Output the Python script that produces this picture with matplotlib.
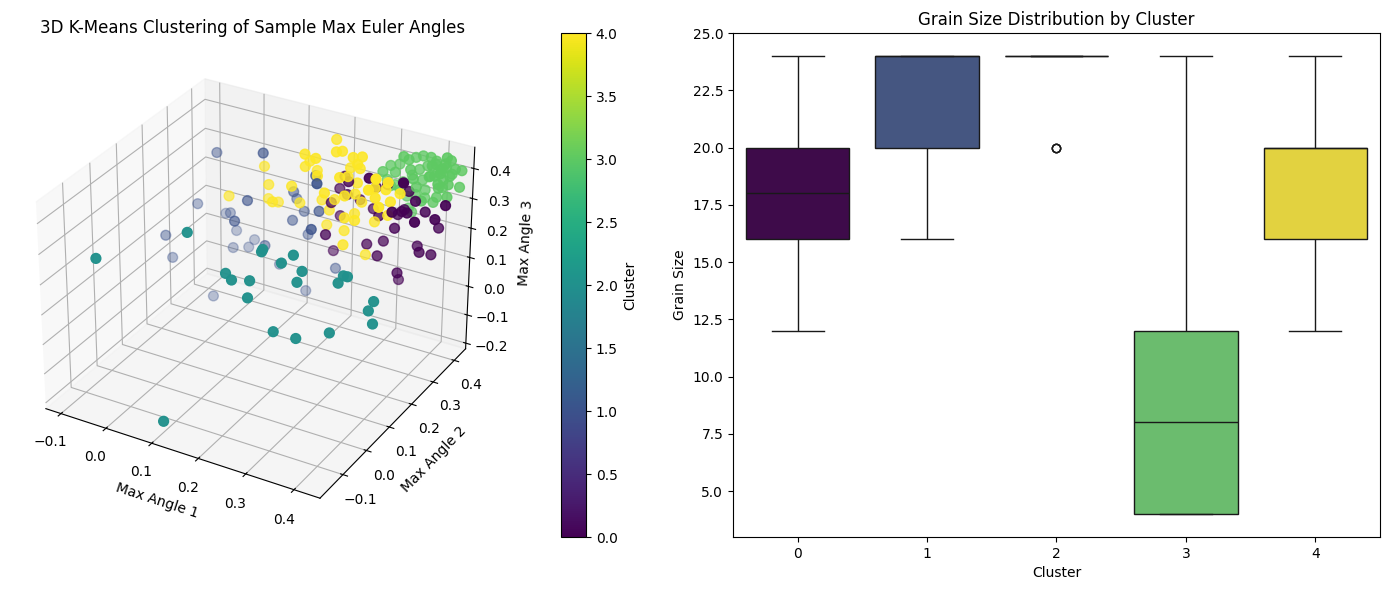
"""
Euler burchaklari bo'yicha K-Means klasterlari va donador o'lcham taqsimoti.
"""
import numpy as np
import pandas as pd
import matplotlib
matplotlib.use("Agg")
import matplotlib.pyplot as plt
import seaborn as sns

# === MA'LUMOTLAR (klaster bo'yicha) ===
# cluster 0
c0_x = [0.226, 0.253, 0.201, 0.315, 0.284, 0.326, 0.232, 0.217, 0.203, 0.225,
        0.194, 0.285, 0.311, 0.317, 0.274, 0.364, 0.331, 0.343, 0.348, 0.377,
        0.340, 0.411, 0.353, 0.385, 0.397, 0.435, 0.413, 0.447, 0.374, 0.396,
        0.412, 0.360, 0.332, 0.386, 0.250, 0.309]
c0_y = [0.36, 0.32, 0.39, 0.28, 0.38, 0.34, 0.36, 0.32, 0.39, 0.28,
        0.38, 0.34, 0.36, 0.32, 0.39, 0.28, 0.38, 0.34, 0.36, 0.32,
        0.39, 0.28, 0.38, 0.34, 0.36, 0.32, 0.39, 0.34, 0.38, 0.34,
        0.36, 0.32, 0.39, 0.28, 0.38, 0.34]
c0_z = [0.342, 0.361, 0.271, 0.424, 0.316, 0.369, 0.283, 0.276, 0.179, 0.198,
        0.061, 0.151, 0.159, 0.139, 0.233, 0.333, 0.244, 0.230, 0.275, 0.309,
        0.258, 0.320, 0.331, 0.338, 0.294, 0.312, 0.227, 0.350, 0.156, 0.172,
        0.157, 0.100, 0.015, 0.438, 0.260, 0.257]
c0_grain = [12, 16, 20, 24, 16, 20, 16, 20, 12, 16, 20, 24, 16, 20, 16, 20, 16, 20,
            12, 16, 20, 24, 16, 20, 16, 20, 16, 12, 20, 24, 16, 20, 16, 20, 24, 16]

# cluster 1
c1_x = [-0.078, 0.058, -0.107, -0.080, -0.048, 0.044, -0.050, 0.031, -0.019, -0.042,
        -0.022, 0.062, -0.126, -0.128, -0.051, 0.054, 0.173, 0.095, 0.082, 0.220,
        0.104, 0.181, 0.098, 0.108, 0.209, 0.180, 0.109]
c1_y = [0.40, 0.34, 0.37, 0.44, 0.40, 0.30, 0.43, 0.27, 0.45, 0.40,
        0.43, 0.34, 0.27, 0.30, 0.33, 0.42, 0.34, 0.40, 0.44, 0.25,
        0.43, 0.34, 0.39, 0.44, 0.25, 0.42, 0.43]
c1_z = [0.273, 0.364, 0.102, 0.033, 0.075, 0.223, -0.009, 0.167, -0.042, -0.046,
        -0.056, 0.048, 0.050, -0.050, -0.175, -0.077, 0.335, 0.209, 0.153, 0.386,
        0.125, 0.218, 0.118, 0.039, 0.229, -0.035, -0.154]
c1_grain = [24, 20, 24, 16, 24, 24, 20, 24, 24, 16, 24, 20, 24, 24,
            20, 24, 16, 24, 24, 20, 24, 24, 16, 20, 24, 24, 20]

# cluster 2
c2_x = [-0.073, 0.058, 0.186, 0.187, 0.223, 0.134, 0.152, 0.180, 0.186, 0.241,
        0.108, 0.238, 0.260, 0.256, 0.327, 0.334, 0.322, 0.387, 0.383, 0.396,
        0.280, 0.331]
c2_y = [-0.09, 0.03, 0.087, 0.09, 0.097, 0.04, 0.03, 0.05, 0.03, 0.029,
        -0.162, 0.117, 0.11, 0.097, 0.15, 0.153, 0.138, 0.158, 0.144, 0.136,
        0.046, 0.085]
c2_z = [0.242, 0.303, 0.256, 0.262, 0.228, 0.194, 0.187, 0.183, 0.143, 0.056,
        -0.167, 0.247, 0.208, 0.179, 0.195, 0.193, 0.177, 0.131, 0.108, 0.076,
        0.039, 0.053]
c2_grain = [24, 24, 24, 24, 24, 20, 24, 24, 20, 24, 24,
            24, 24, 24, 20, 24, 24, 24, 24, 24, 24, 24]

# cluster 3
c3_x = [0.295, 0.305, 0.342, 0.297, 0.339, 0.354, 0.379, 0.382, 0.421, 0.421,
        0.355, 0.347, 0.408, 0.400, 0.403, 0.331, 0.361, 0.354, 0.414, 0.406,
        0.296, 0.325, 0.368, 0.360, 0.421, 0.349, 0.360, 0.402, 0.432, 0.326,
        0.388, 0.342, 0.279, 0.314, 0.314, 0.364, 0.425, 0.419, 0.322, 0.395,
        0.340, 0.332, 0.390, 0.410, 0.430, 0.395, 0.415, 0.435, 0.385, 0.405,
        0.425, 0.440, 0.370, 0.400]
c3_y = [0.42, 0.44, 0.40, 0.38, 0.44, 0.44, 0.42, 0.44, 0.40, 0.42,
        0.38, 0.44, 0.36, 0.42, 0.44, 0.40, 0.38, 0.44, 0.36, 0.42,
        0.44, 0.40, 0.38, 0.44, 0.36, 0.42, 0.44, 0.40, 0.38, 0.44,
        0.36, 0.42, 0.44, 0.40, 0.38, 0.44, 0.36, 0.42, 0.44, 0.40,
        0.38, 0.44, 0.42, 0.42, 0.42, 0.44, 0.44, 0.44, 0.40, 0.40,
        0.40, 0.42, 0.44, 0.43]
c3_z = [0.368, 0.364, 0.419, 0.374, 0.400, 0.411, 0.429, 0.405, 0.457, 0.435,
        0.404, 0.363, 0.451, 0.396, 0.392, 0.341, 0.376, 0.331, 0.420, 0.365,
        0.291, 0.313, 0.352, 0.300, 0.396, 0.293, 0.273, 0.319, 0.345, 0.224,
        0.327, 0.231, 0.302, 0.366, 0.334, 0.382, 0.432, 0.382, 0.263, 0.299,
        0.441, 0.338, 0.410, 0.420, 0.410, 0.385, 0.375, 0.395, 0.380, 0.350,
        0.370, 0.355, 0.350, 0.330]
c3_grain = [4, 8, 4, 12, 4, 8, 12, 4, 16, 4, 12, 8, 4, 12, 20, 4, 8, 12, 4, 12,
            24, 8, 4, 12, 16, 4, 8, 12, 4, 20, 12, 8, 4, 16, 12, 4, 8, 12, 24,
            4, 16, 20, 4, 8, 12, 4, 12, 8, 4, 12, 16, 4, 8, 12]

# cluster 4
c4_x = [0.206, 0.066, 0.183, 0.170, 0.207, 0.170, 0.181, 0.230, 0.238, 0.268,
        0.281, 0.252, 0.288, 0.277, 0.211, 0.091, 0.075, 0.125, 0.102, 0.156,
        0.159, 0.192, 0.236, 0.224, 0.269, 0.277, 0.277, 0.328, 0.213, 0.258,
        0.261, 0.267, 0.343, 0.309, 0.359, 0.341, 0.203, 0.279, 0.267, 0.291,
        0.255, 0.305, 0.350, 0.337, 0.333, 0.351, 0.357, 0.277, 0.292, 0.019]
c4_y = [0.362, 0.33, 0.272, 0.32, 0.27, 0.30, 0.33, 0.312, 0.322, 0.307,
        0.32, 0.33, 0.285, 0.32, 0.27, 0.30, 0.33, 0.25, 0.32, 0.27,
        0.30, 0.33, 0.25, 0.32, 0.27, 0.30, 0.33, 0.25, 0.32, 0.27,
        0.30, 0.33, 0.25, 0.32, 0.27, 0.30, 0.33, 0.25, 0.32, 0.27,
        0.30, 0.33, 0.25, 0.32, 0.27, 0.30, 0.33, 0.25, 0.32, 0.27]
c4_z = [0.455, 0.329, 0.454, 0.395, 0.451, 0.390, 0.362, 0.455, 0.454, 0.455,
        0.454, 0.400, 0.455, 0.414, 0.395, 0.297, 0.223, 0.286, 0.229, 0.338,
        0.264, 0.268, 0.362, 0.289, 0.353, 0.343, 0.296, 0.410, 0.249, 0.409,
        0.394, 0.356, 0.452, 0.362, 0.434, 0.384, 0.188, 0.298, 0.260, 0.281,
        0.211, 0.242, 0.363, 0.284, 0.373, 0.348, 0.358, 0.207, 0.132, 0.248]
c4_grain = [20, 16, 20, 24, 20, 12, 20, 16, 20, 24, 20, 16, 20, 20, 12, 20, 24,
            16, 20, 20, 16, 20, 24, 20, 12, 16, 20, 20, 24, 16, 20, 20, 16, 12,
            20, 24, 20, 16, 20, 20, 24, 16, 20, 20, 16, 20, 24, 20, 16, 20]

# === JADVAL ===
parts = []
for k, (xs, ys, zs, gs) in enumerate([(c0_x, c0_y, c0_z, c0_grain),
                                      (c1_x, c1_y, c1_z, c1_grain),
                                      (c2_x, c2_y, c2_z, c2_grain),
                                      (c3_x, c3_y, c3_z, c3_grain),
                                      (c4_x, c4_y, c4_z, c4_grain)]):
    parts.append(pd.DataFrame({"a1": xs, "a2": ys, "a3": zs,
                               "grain": gs, "cluster": k}))
df = pd.concat(parts, ignore_index=True)

# === FIGURE ===
fig = plt.figure(figsize=(13.89, 5.90), dpi=100)

# 3D o'qi (kvadrat, kolorbar joy olgan)
ax1 = fig.add_axes([0.0065, 0.1034, 0.3513, 0.8271], projection="3d")
sc = ax1.scatter(df["a1"], df["a2"], df["a3"], c=df["cluster"],
                 cmap="viridis", s=50)
ax1.set_xlim(-0.134, 0.453)
ax1.set_ylim(-0.195, 0.455)
ax1.set_zlim(-0.22, 0.47)
ax1.set_title("3D K-Means Clustering of Sample Max Euler Angles")
ax1.set_xlabel("Max Angle 1")
ax1.set_ylabel("Max Angle 2")
ax1.set_zlabel("Max Angle 3")

cax = fig.add_axes([0.4039, 0.0898, 0.0180, 0.8542])
fig.colorbar(sc, cax=cax, label="Cluster")

# === BOXPLOT ===
ax2 = fig.add_axes([0.5277, 0.0898, 0.4658, 0.8542])
pal = [matplotlib.colors.to_hex(c) for c in plt.cm.viridis(np.linspace(0, 1, 5))]
sns.boxplot(data=df, x="cluster", y="grain", hue="cluster",
            palette=pal, legend=False, ax=ax2)
ax2.set_title("Grain Size Distribution by Cluster")
ax2.set_xlabel("Cluster")
ax2.set_ylabel("Grain Size")

plt.savefig("out.png", dpi=100)
plt.close()
